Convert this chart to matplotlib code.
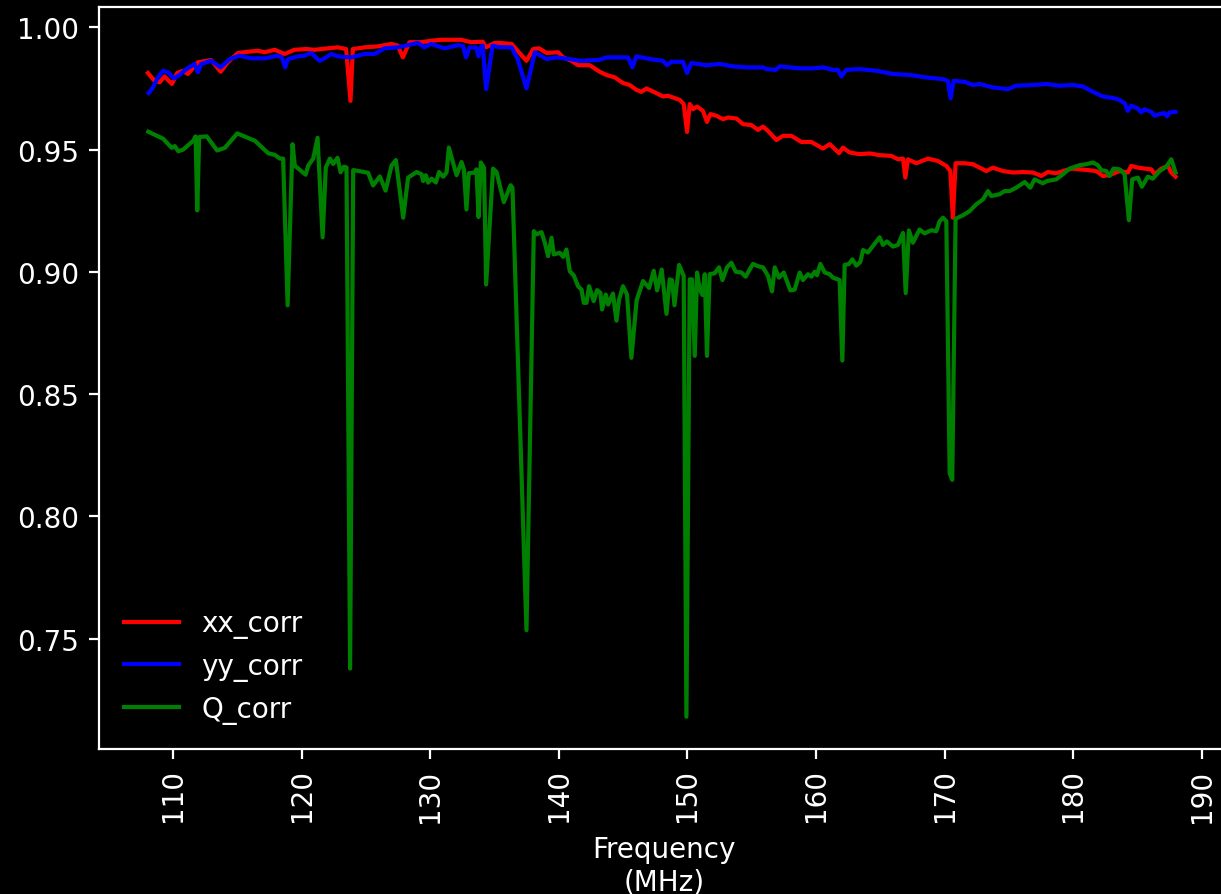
import matplotlib
matplotlib.use("Agg")
import matplotlib.pyplot as plt

# ---- data ----
freq_xx = [108.03, 108.55, 108.94, 109.33, 109.90, 110.31, 110.75, 111.14, 111.92, 112.95,
           113.69, 114.25, 115.03, 115.81, 116.59, 117.11, 117.89, 118.66, 119.44, 120.34,
           121.00, 122.03, 122.81, 123.45, 123.79, 123.97, 124.88, 125.92, 126.95, 127.47,
           127.86, 128.38, 129.29, 130.06, 130.84, 131.49, 132.40, 133.17, 134.08, 134.34,
           134.99, 135.41, 136.32, 137.48, 138.00, 138.46, 139.04, 139.94, 140.33, 140.98,
           141.49, 142.40, 143.18, 143.70, 144.35, 144.99, 145.51, 146.03, 146.42, 146.81,
           147.46, 148.10, 148.49, 148.88, 149.40, 149.71, 149.97, 150.18, 150.44, 150.75,
           151.21, 151.52, 151.79, 152.26, 152.77, 153.16, 153.81, 154.32, 154.98, 155.49,
           155.88, 156.27, 156.92, 157.43, 158.09, 158.86, 159.64, 160.54, 161.07, 161.79,
           162.10, 162.62, 163.40, 164.18, 164.95, 165.86, 166.38, 166.77, 166.95, 167.15,
           167.81, 168.71, 169.49, 170.14, 170.45, 170.65, 170.86, 171.56, 172.21, 172.73,
           173.25, 173.76, 174.54, 175.32, 176.10, 176.87, 177.53, 178.04, 178.69, 179.47,
           179.98, 180.51, 181.15, 181.80, 182.32, 182.84, 183.62, 184.26, 184.52, 185.04,
           185.56, 186.08, 186.34, 186.86, 187.38, 187.64, 187.97]
xx_corr = [0.9813, 0.9781, 0.9775, 0.9799, 0.9768, 0.9813, 0.9822, 0.9809, 0.9857, 0.9866,
           0.9818, 0.9857, 0.9895, 0.9900, 0.9904, 0.9898, 0.9908, 0.9891, 0.9908, 0.9911,
           0.9908, 0.9914, 0.9918, 0.9911, 0.9699, 0.9911, 0.9918, 0.9922, 0.9932, 0.9925,
           0.9877, 0.9939, 0.9939, 0.9945, 0.9949, 0.9949, 0.9949, 0.9939, 0.9941, 0.9918,
           0.9936, 0.9936, 0.9932, 0.9863, 0.9911, 0.9914, 0.9895, 0.9898, 0.9877, 0.9863,
           0.9845, 0.9845, 0.9818, 0.9805, 0.9795, 0.9772, 0.9764, 0.9744, 0.9736, 0.9750,
           0.9734, 0.9717, 0.9720, 0.9713, 0.9703, 0.9686, 0.9572, 0.9686, 0.9665, 0.9676,
           0.9658, 0.9613, 0.9645, 0.9638, 0.9624, 0.9631, 0.9627, 0.9604, 0.9600, 0.9580,
           0.9594, 0.9576, 0.9539, 0.9556, 0.9556, 0.9531, 0.9531, 0.9504, 0.9522, 0.9485,
           0.9508, 0.9488, 0.9481, 0.9484, 0.9477, 0.9474, 0.9460, 0.9463, 0.9385, 0.9460,
           0.9444, 0.9463, 0.9453, 0.9433, 0.9412, 0.9221, 0.9444, 0.9444, 0.9440, 0.9426,
           0.9412, 0.9426, 0.9412, 0.9406, 0.9408, 0.9406, 0.9392, 0.9408, 0.9403, 0.9416,
           0.9422, 0.9419, 0.9416, 0.9412, 0.9392, 0.9395, 0.9412, 0.9406, 0.9433, 0.9426,
           0.9422, 0.9419, 0.9399, 0.9422, 0.9433, 0.9406, 0.9389]

freq_yy = [108.09, 108.42, 108.81, 109.20, 109.59, 110.05, 110.50, 111.01, 111.66, 111.92,
           112.18, 112.95, 113.69, 114.39, 115.16, 116.07, 117.11, 118.14, 118.45, 118.71,
           118.92, 119.70, 120.22, 120.73, 121.38, 121.77, 122.29, 122.81, 123.84, 124.88,
           125.66, 126.44, 127.47, 128.25, 129.03, 129.55, 130.06, 131.10, 132.14, 132.53,
           132.78, 133.05, 133.56, 133.75, 133.95, 134.08, 134.34, 134.84, 135.41, 136.32,
           136.80, 137.48, 138.13, 139.04, 139.81, 140.85, 141.62, 143.18, 143.70, 145.38,
           145.72, 146.03, 147.07, 148.10, 148.41, 148.76, 149.66, 149.97, 150.31, 151.48,
           152.51, 153.55, 154.59, 155.88, 156.14, 156.87, 157.18, 158.73, 159.77, 160.54,
           161.32, 161.71, 161.97, 162.36, 163.40, 164.70, 165.99, 167.29, 168.58, 169.88,
           170.26, 170.47, 170.71, 171.56, 172.21, 172.73, 173.76, 174.93, 175.58, 176.87,
           177.92, 178.95, 179.98, 180.76, 181.54, 182.32, 182.84, 183.48, 184.01, 184.26,
           184.52, 185.04, 185.30, 185.56, 186.08, 186.34, 186.73, 187.12, 187.30, 187.51,
           187.97]
yy_corr = [0.9731, 0.9754, 0.9795, 0.9822, 0.9816, 0.9791, 0.9805, 0.9829, 0.9850, 0.9816,
           0.9850, 0.9863, 0.9836, 0.9870, 0.9884, 0.9873, 0.9873, 0.9884, 0.9877, 0.9836,
           0.9870, 0.9881, 0.9884, 0.9895, 0.9863, 0.9873, 0.9891, 0.9881, 0.9877, 0.9891,
           0.9891, 0.9914, 0.9918, 0.9927, 0.9936, 0.9918, 0.9932, 0.9914, 0.9927, 0.9925,
           0.9877, 0.9918, 0.9918, 0.9881, 0.9922, 0.9925, 0.9747, 0.9925, 0.9918, 0.9918,
           0.9870, 0.9750, 0.9898, 0.9870, 0.9877, 0.9870, 0.9863, 0.9867, 0.9877, 0.9877,
           0.9836, 0.9881, 0.9870, 0.9863, 0.9845, 0.9859, 0.9859, 0.9813, 0.9854, 0.9845,
           0.9850, 0.9840, 0.9836, 0.9836, 0.9829, 0.9826, 0.9840, 0.9832, 0.9832, 0.9836,
           0.9826, 0.9826, 0.9799, 0.9826, 0.9829, 0.9822, 0.9809, 0.9805, 0.9795, 0.9788,
           0.9781, 0.9709, 0.9781, 0.9777, 0.9764, 0.9768, 0.9754, 0.9747, 0.9761, 0.9764,
           0.9768, 0.9761, 0.9764, 0.9758, 0.9736, 0.9717, 0.9713, 0.9706, 0.9690, 0.9658,
           0.9679, 0.9668, 0.9652, 0.9665, 0.9654, 0.9638, 0.9645, 0.9649, 0.9635, 0.9652,
           0.9654]

freq_q = [108.06, 109.22, 109.88, 110.13, 110.39, 110.78, 111.56, 111.74, 111.87, 112.02,
          112.60, 113.42, 114.02, 114.98, 116.35, 117.39, 117.91, 118.30, 118.55, 118.90,
          119.28, 119.46, 120.30, 120.50, 120.89, 121.23, 121.62, 121.87, 122.19, 122.44,
          122.78, 123.02, 123.27, 123.48, 123.76, 124.00, 125.16, 125.55, 126.07, 126.52,
          126.98, 127.32, 127.89, 128.27, 128.93, 129.32, 129.44, 129.65, 129.83, 130.10,
          130.43, 130.68, 131.00, 131.26, 131.44, 132.04, 132.43, 132.61, 132.81, 132.99,
          133.46, 133.59, 133.75, 133.93, 134.18, 134.34, 134.88, 135.15, 135.72, 136.24,
          136.39, 137.48, 138.05, 138.26, 138.65, 138.90, 139.16, 139.43, 139.60, 140.07,
          140.33, 140.59, 140.85, 141.16, 141.49, 141.76, 141.94, 142.15, 142.35, 142.71,
          142.97, 143.23, 143.36, 143.65, 143.83, 144.21, 144.48, 144.68, 144.99, 145.30,
          145.64, 146.05, 146.55, 147.02, 147.38, 147.64, 148.00, 148.37, 148.62, 148.80,
          148.99, 149.35, 149.71, 149.92, 150.18, 150.36, 150.57, 150.75, 150.96, 151.17,
          151.35, 151.52, 151.73, 152.12, 152.46, 152.72, 153.08, 153.42, 153.76, 154.20,
          154.53, 154.84, 155.10, 155.49, 155.88, 156.27, 156.58, 156.79, 157.12, 157.49,
          158.01, 158.34, 158.73, 158.99, 159.38, 159.64, 159.90, 160.08, 160.34, 160.68,
          161.07, 161.32, 161.84, 162.05, 162.23, 162.57, 162.83, 163.14, 163.45, 163.66,
          164.04, 164.39, 164.70, 164.95, 165.21, 165.52, 165.99, 166.38, 166.77, 166.98,
          167.23, 167.54, 168.06, 168.45, 168.97, 169.36, 169.62, 169.88, 170.14, 170.40,
          170.60, 170.86, 171.43, 171.95, 172.47, 172.99, 173.38, 173.64, 174.28, 174.67,
          175.06, 175.58, 176.23, 176.67, 177.01, 177.65, 177.96, 178.69, 179.21, 179.73,
          180.51, 181.02, 181.54, 181.93, 182.19, 182.58, 182.84, 183.15, 183.62, 184.01,
          184.34, 184.60, 185.04, 185.35, 185.82, 186.21, 186.73, 187.25, 187.64, 187.97]
q_corr = [0.9573, 0.9544, 0.9507, 0.9514, 0.9493, 0.9500, 0.9536, 0.9554, 0.9251, 0.9551,
          0.9554, 0.9496, 0.9507, 0.9566, 0.9536, 0.9485, 0.9478, 0.9463, 0.9463, 0.8863,
          0.9522, 0.9434, 0.9397, 0.9434, 0.9463, 0.9548, 0.9141, 0.9427, 0.9463, 0.9441,
          0.9466, 0.9407, 0.9430, 0.9427, 0.7377, 0.9416, 0.9405, 0.9353, 0.9390, 0.9332,
          0.9434, 0.9457, 0.9221, 0.9385, 0.9408, 0.9399, 0.9371, 0.9395, 0.9365, 0.9381,
          0.9365, 0.9408, 0.9389, 0.9406, 0.9508, 0.9395, 0.9449, 0.9419, 0.9255, 0.9403,
          0.9406, 0.9419, 0.9224, 0.9447, 0.9426, 0.8948, 0.9422, 0.9408, 0.9285, 0.9354,
          0.9344, 0.7534, 0.9166, 0.9153, 0.9162, 0.9121, 0.9064, 0.9139, 0.9071, 0.9078,
          0.9061, 0.9091, 0.9002, 0.8985, 0.8941, 0.8927, 0.8873, 0.8873, 0.8941, 0.8880,
          0.8925, 0.8914, 0.8846, 0.8907, 0.8866, 0.8911, 0.8800, 0.8886, 0.8941, 0.8907,
          0.8648, 0.8884, 0.8962, 0.8934, 0.9004, 0.8924, 0.9009, 0.8828, 0.8969, 0.8966,
          0.8863, 0.9028, 0.8983, 0.7180, 0.8969, 0.8969, 0.8656, 0.8997, 0.8927, 0.8905,
          0.8990, 0.8656, 0.8990, 0.8994, 0.9018, 0.8966, 0.9018, 0.9037, 0.9000, 0.8997,
          0.8980, 0.9009, 0.9032, 0.9023, 0.9018, 0.8983, 0.8920, 0.9018, 0.8976, 0.8997,
          0.8924, 0.8927, 0.8997, 0.8966, 0.8990, 0.8980, 0.9000, 0.8986, 0.9032, 0.8997,
          0.8990, 0.8976, 0.8966, 0.8637, 0.9028, 0.9032, 0.9051, 0.9025, 0.9040, 0.9089,
          0.9079, 0.9103, 0.9124, 0.9141, 0.9110, 0.9124, 0.9103, 0.9110, 0.9159, 0.8913,
          0.9169, 0.9119, 0.9173, 0.9157, 0.9170, 0.9166, 0.9207, 0.9221, 0.9207, 0.8176,
          0.8149, 0.9217, 0.9231, 0.9248, 0.9276, 0.9296, 0.9330, 0.9310, 0.9317, 0.9330,
          0.9330, 0.9344, 0.9367, 0.9344, 0.9378, 0.9362, 0.9371, 0.9378, 0.9399, 0.9422,
          0.9436, 0.9440, 0.9447, 0.9436, 0.9416, 0.9412, 0.9392, 0.9422, 0.9419, 0.9399,
          0.9211, 0.9378, 0.9385, 0.9348, 0.9389, 0.9381, 0.9412, 0.9430, 0.9460, 0.9406]

series_labels = ["xx_corr", "yy_corr", "Q_corr"]
x_ticks = [110, 120, 130, 140, 150, 160, 170, 180, 190]
y_ticks = [0.75, 0.80, 0.85, 0.90, 0.95, 1.00]

# ---- figure ----
plt.style.use("dark_background")
plt.rcParams["font.family"] = ["DejaVu Sans"]

fig = plt.figure(figsize=(1221 / 200, 895 / 200), dpi=200)
ax = fig.add_axes([0.0808, 0.162, 0.9265, 0.8296])

ax.plot(freq_xx, xx_corr, color="r", label=series_labels[0])
ax.plot(freq_yy, yy_corr, color="b", label=series_labels[1])
ax.plot(freq_q, q_corr, color="g", label=series_labels[2])

ax.set_xlim(104.2, 192.2)
ax.set_ylim(0.7048, 1.0085)
ax.set_xticks(x_ticks)
ax.set_yticks(y_ticks)
ax.set_yticklabels([f"{v:.2f}" for v in y_ticks])
ax.tick_params(axis="x", labelrotation=90)
ax.set_xlabel("Frequency\n(MHz)", labelpad=5)
ax.legend(loc="lower left", frameon=False)

fig.savefig("out.png", dpi=200, facecolor="black")
